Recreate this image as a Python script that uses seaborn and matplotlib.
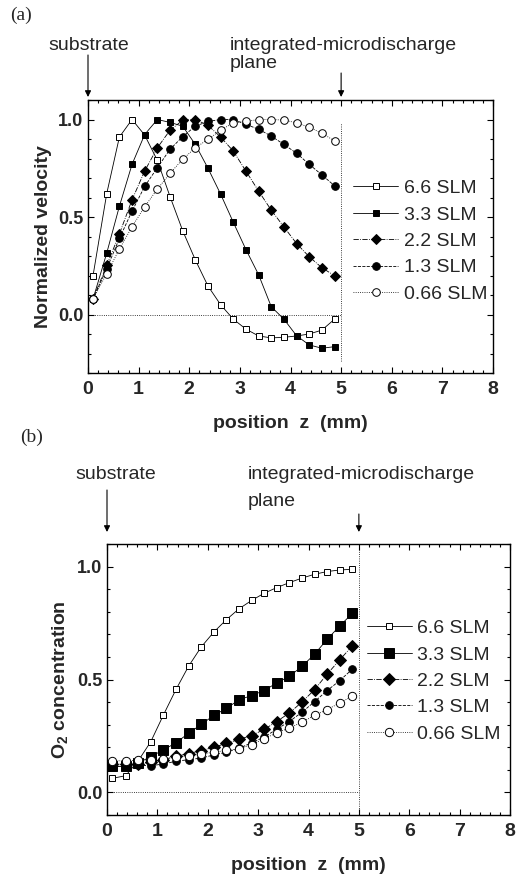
import matplotlib
matplotlib.use("Agg")
import matplotlib.pyplot as plt
from matplotlib.ticker import MultipleLocator
import seaborn as sns

# positions along z (mm), same grid for every flow rate
z_pos = [0.1, 0.37, 0.62, 0.87, 1.12, 1.37, 1.62, 1.87, 2.12, 2.37,
         2.62, 2.87, 3.12, 3.37, 3.62, 3.87, 4.12, 4.37, 4.62, 4.87]
labels = ['6.6 SLM', '3.3 SLM', '2.2 SLM', '1.3 SLM', '0.66 SLM']

# (a) normalized velocity
vel_66 = [0.20, 0.62, 0.91, 1.00, 0.92, 0.79, 0.605, 0.43, 0.28, 0.146,
          0.05, -0.024, -0.075, -0.11, -0.12, -0.117, -0.11, -0.10, -0.08, -0.024]
vel_33 = [0.08, 0.315, 0.555, 0.77, 0.923, 1.0, 0.985, 0.966, 0.872, 0.75,
          0.617, 0.473, 0.333, 0.204, 0.04, -0.024, -0.109, -0.156, -0.173, -0.165]
vel_22 = [0.08, 0.252, 0.413, 0.588, 0.736, 0.855, 0.945, 0.996, 1.0, 0.97,
          0.91, 0.838, 0.735, 0.633, 0.535, 0.449, 0.364, 0.296, 0.24, 0.199]
vel_13 = [0.08, 0.235, 0.39, 0.53, 0.657, 0.753, 0.847, 0.912, 0.966, 0.99,
          1.0, 1.0, 0.975, 0.95, 0.915, 0.872, 0.827, 0.77, 0.716, 0.66]
vel_066 = [0.08, 0.21, 0.335, 0.45, 0.553, 0.643, 0.724, 0.796, 0.855, 0.898,
           0.945, 0.983, 0.99, 1.0, 1.0, 0.997, 0.983, 0.96, 0.93, 0.89]

# (b) O2 concentration
o2_66 = [0.062, 0.074, 0.14, 0.225, 0.343, 0.456, 0.559, 0.644, 0.71, 0.765,
         0.813, 0.85, 0.882, 0.907, 0.929, 0.949, 0.966, 0.978, 0.985, 0.988]
o2_33 = [0.115, 0.115, 0.13, 0.159, 0.188, 0.22, 0.262, 0.301, 0.341, 0.372,
         0.41, 0.429, 0.451, 0.485, 0.514, 0.558, 0.612, 0.678, 0.737, 0.793]
o2_22 = [0.125, 0.125, 0.125, 0.135, 0.145, 0.16, 0.172, 0.185, 0.20, 0.217,
         0.235, 0.252, 0.279, 0.314, 0.352, 0.40, 0.455, 0.524, 0.587, 0.649]
o2_13 = [0.116, 0.116, 0.12, 0.118, 0.126, 0.138, 0.145, 0.152, 0.166, 0.178,
         0.195, 0.22, 0.245, 0.28, 0.314, 0.355, 0.402, 0.451, 0.495, 0.546]
o2_066 = [0.14, 0.14, 0.142, 0.145, 0.15, 0.155, 0.162, 0.17, 0.178, 0.186,
          0.194, 0.211, 0.238, 0.264, 0.285, 0.311, 0.341, 0.367, 0.396, 0.426]

markers = ['s', 's', 'D', 'o', 'o']
faces = ['white', 'black', 'black', 'black', 'white']
lstyles = ['-', '-', '-.', '--', ':']

sns.set_style('ticks')
plt.rcParams['font.family'] = ['Liberation Sans', 'DejaVu Sans']
plt.rcParams['mathtext.fontset'] = 'custom'
plt.rcParams['mathtext.bf'] = 'Liberation Sans:bold'
plt.rcParams['mathtext.rm'] = 'Liberation Sans'

W, H = 519, 875
fig = plt.figure(figsize=(W / 100, H / 100), dpi=100)


def px_axes(left, top, right, bottom):
    return fig.add_axes([left / W, 1 - bottom / H, (right - left) / W,
                         (bottom - top) / H])


def draw_panel(ax, series, msizes, ylim, ylabel, leg_anchor):
    for vals, lab, m, fc, ls, ms in zip(series, labels, markers, faces,
                                        lstyles, msizes):
        sns.lineplot(x=z_pos, y=vals, ax=ax, color='black', lw=0.6,
                     linestyle=ls, marker=m, markersize=ms,
                     markerfacecolor=fc, markeredgecolor='black',
                     markeredgewidth=0.7, label=lab, estimator=None,
                     sort=False)
    ax.hlines(0, 0, 5, colors='black', linestyles=':', lw=0.6)
    ax.set_xlim(0, 8)
    ax.set_ylim(*ylim)
    ax.xaxis.set_major_locator(MultipleLocator(1))
    ax.xaxis.set_minor_locator(MultipleLocator(0.2))
    ax.yaxis.set_major_locator(MultipleLocator(0.5))
    ax.yaxis.set_minor_locator(MultipleLocator(0.1))
    ax.tick_params(which='both', direction='in', top=True, right=True,
                   width=0.8, color='black')
    ax.tick_params(which='major', length=4)
    ax.tick_params(which='minor', length=2)
    ax.tick_params(axis='x', labelsize=14, pad=6)
    ax.tick_params(axis='y', labelsize=13)
    for t in ax.get_xticklabels() + ax.get_yticklabels():
        t.set_fontweight('bold')
    for s in ax.spines.values():
        s.set_linewidth(1.0)
        s.set_color('black')
    ax.set_xlabel('position  z  (mm)', fontsize=14, fontweight='bold',
                  labelpad=12)
    ax.set_ylabel(ylabel, fontsize=14, fontweight='bold')
    ax.legend(loc='center left', bbox_to_anchor=leg_anchor, frameon=False,
              borderpad=0, borderaxespad=0, handlelength=2.3,
              handletextpad=0.3, labelspacing=0.45, fontsize=14)


# panel (a)
ax_a = px_axes(88, 100, 493, 373)
draw_panel(ax_a, [vel_66, vel_33, vel_22, vel_13, vel_066],
           [5, 5, 5.5, 5.5, 5.5], (-0.3, 1.1), 'Normalized velocity',
           (0.655, 0.483))
ax_a.vlines(5, -0.24, 0.98, colors='black', linestyles=':', lw=0.6)

# panel (b)
ax_b = px_axes(107, 544, 510, 815)
draw_panel(ax_b, [o2_66, o2_33, o2_22, o2_13, o2_066],
           [5, 6.5, 6, 5.5, 6], (-0.1, 1.1), r'O$_\mathbf{2}$ concentration',
           (0.645, 0.494))
ax_b.vlines(5, -0.1, 1.1, colors='black', linestyles=':', lw=0.6)


def header(ax, tag, tag_xy, top_px, sub_left, int_left, text_up, plane_up,
           tip_up, tails):
    fig.text(tag_xy[0] / W, 1 - tag_xy[1] / H, tag, family='Liberation Serif',
             fontsize=14, va='center', ha='left')
    fig.text(sub_left / W, 1 - (top_px - text_up) / H, 'substrate',
             fontsize=14, va='baseline')
    fig.text(int_left / W, 1 - (top_px - text_up) / H,
             'integrated-microdischarge', fontsize=14, va='baseline')
    fig.text(int_left / W, 1 - (top_px - plane_up) / H, 'plane',
             fontsize=14, va='baseline')
    hgt = ax.get_position().height * H
    for x0, tail in zip([0, 5], tails):
        ax.annotate('', xy=(x0, 1 + tip_up / hgt),
                    xycoords=('data', 'axes fraction'),
                    xytext=(x0, 1 + tail / hgt),
                    textcoords=('data', 'axes fraction'),
                    arrowprops=dict(arrowstyle='-|>', color='black', lw=0.8,
                                    mutation_scale=9, shrinkA=0, shrinkB=0))


header(ax_a, '(a)', (10, 15), 100, 48, 230, 50, 32, 3, (45, 27))
header(ax_b, '(b)', (20, 437), 544, 75, 248, 65, 38, 12, (54, 30))

fig.savefig('out.png', dpi=100)
